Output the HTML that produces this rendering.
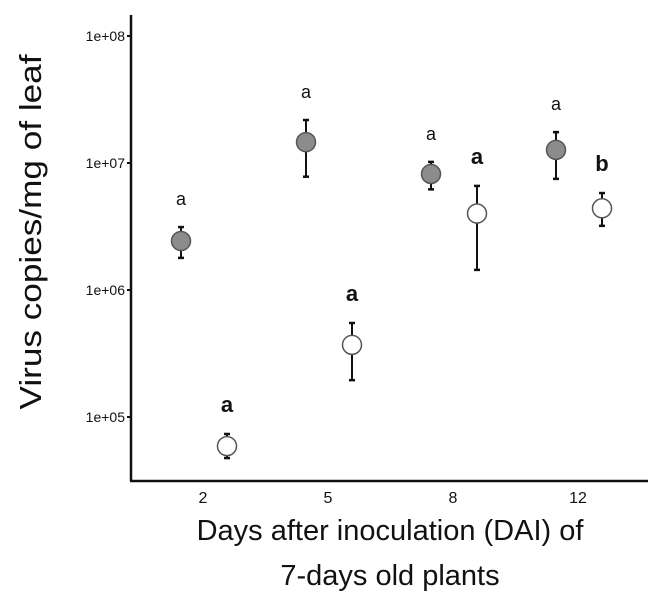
<!DOCTYPE html>
<html><head><meta charset="utf-8"><style>
body{margin:0;background:#fff;}
svg{display:block;font-family:"Liberation Sans",sans-serif;}
</style></head><body>
<svg id="chart" width="653" height="596">
<g id="axes"></g><g id="marks"></g>
<text transform="translate(41,232) rotate(-90)" text-anchor="middle" font-size="31" textLength="355" lengthAdjust="spacingAndGlyphs" fill="#111">Virus copies/mg of leaf</text>
<text x="390" y="540" text-anchor="middle" font-size="29" fill="#111">Days after inoculation (DAI) of</text>
<text x="390" y="585" text-anchor="middle" font-size="29" fill="#111">7-days old plants</text>
</svg>
<script>
const categories=["2","5","8","12"];
const grayMean=[2.43e6,1.46e7,8.2e6,1.27e7];
const grayLow=[1.79e6,7.8e6,6.2e6,7.5e6];
const grayHigh=[3.13e6,2.18e7,1.02e7,1.75e7];
const whiteMean=[5.9e4,3.7e5,4.0e6,4.4e6];
const whiteLow=[4.75e4,1.95e5,1.44e6,3.2e6];
const whiteHigh=[7.35e4,5.5e5,6.6e6,5.8e6];
const grayLetters=["a","a","a","a"];
const whiteLetters=["a","a","a","b"];
const yTicks=[1e5,1e6,1e7,1e8];
const yTickLabels=["1e+05","1e+06","1e+07","1e+08"];

const NS="http://www.w3.org/2000/svg";
function y(v){return 36+(8-Math.log10(v))*127;}
function x(i){return 203+i*125;}
function mk(tag,attrs,parent){const e=document.createElementNS(NS,tag);for(const k in attrs)e.setAttribute(k,attrs[k]);parent.appendChild(e);return e;}
const axes=document.getElementById('axes'),marks=document.getElementById('marks');
let l=mk('line',{x1:131,y1:15,x2:131,y2:481,stroke:'#111','stroke-width':2.5},axes);


l=mk('line',{x1:130,y1:481,x2:648,y2:481,stroke:'#111','stroke-width':2.5},axes);


yTicks.forEach((v,i)=>{
 const t=mk('line',{x1:127,x2:131,y1:y(v),y2:y(v),stroke:'#111','stroke-width':2},axes);
 
 
 const tx=mk('text',{x:125,y:y(v)+5,'text-anchor':'end','font-size':14,fill:'#111'},axes);
 tx.textContent=yTickLabels[i];
 
 
});
categories.forEach((c,i)=>{
 const tx=mk('text',{x:x(i),y:503,'text-anchor':'middle','font-size':16,fill:'#111'},axes);
 tx.textContent=c;
 
 
});
function series(mean,low,high,letters,dx,fill,bold,name){
 mean.forEach((m,i)=>{
  const cx=x(i)+dx;
  const g=mk('g',{},marks);
  
  
  mk('line',{x1:cx,x2:cx,y1:y(high[i]),y2:y(low[i]),stroke:'#111','stroke-width':2},g);
  mk('line',{x1:cx-3,x2:cx+3,y1:y(high[i]),y2:y(high[i]),stroke:'#111','stroke-width':2.5},g);
  mk('line',{x1:cx-3,x2:cx+3,y1:y(low[i]),y2:y(low[i]),stroke:'#111','stroke-width':2.5},g);
  mk('circle',{cx:cx,cy:y(m),r:9.5,fill:fill,stroke:'#555','stroke-width':1.5},g);
  const t=mk('text',{x:cx,y:y(high[i])-22,'text-anchor':'middle','font-size':bold?22:18,'font-weight':bold?'bold':'normal',fill:'#111'},marks);
  t.textContent=letters[i];
  
  
 });
}
series(grayMean,grayLow,grayHigh,grayLetters,-22,'#8c8c8c',false,'gray');
series(whiteMean,whiteLow,whiteHigh,whiteLetters,24,'#fff',true,'white');
</script>
</body></html>
